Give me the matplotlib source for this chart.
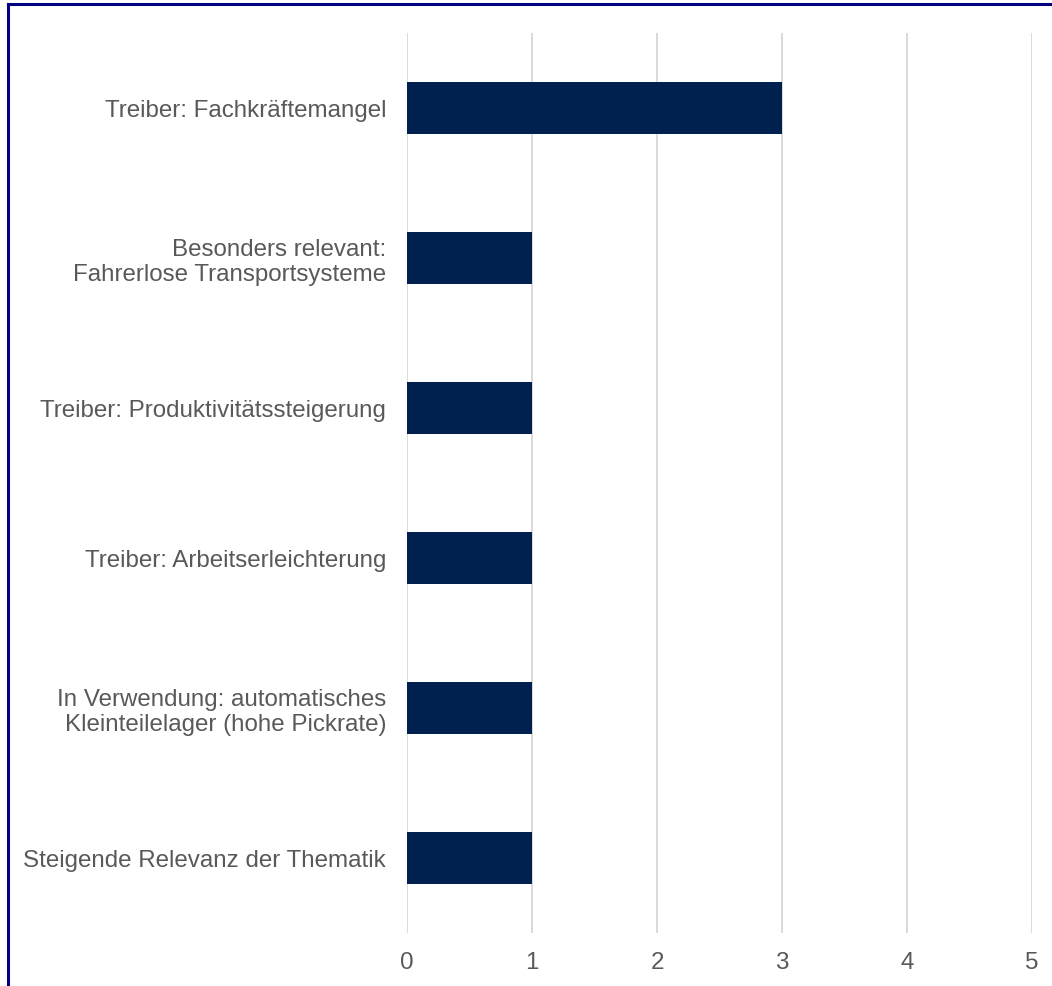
import matplotlib
matplotlib.use("Agg")
import matplotlib.pyplot as plt
from matplotlib.lines import Line2D

labels = [
    "Treiber: Fachkräftemangel",
    "Besonders relevant:\nFahrerlose Transportsysteme",
    "Treiber: Produktivitätssteigerung",
    "Treiber: Arbeitserleichterung",
    "In Verwendung: automatisches\nKleinteilelager (hohe Pickrate)",
    "Steigende Relevanz der Thematik",
]
values = [3, 1, 1, 1, 1, 1]
xticks = [0, 1, 2, 3, 4, 5]

plt.rcParams['font.family'] = ['Liberation Sans', 'DejaVu Sans']

W, H = 1052, 987
fig = plt.figure(figsize=(W / 100, H / 100), dpi=100)
ax = fig.add_axes([407 / W, (H - 934) / H, (1032 - 407) / W, (934 - 34) / H])

pos = list(range(len(labels)))
ax.barh(pos, values, height=0.35, color="#002050", zorder=3)
ax.set_ylim(len(labels) - 0.5, -0.5)
ax.set_xlim(0, 5)
ax.set_xticks(xticks)
ax.set_yticks(pos)
ax.set_yticklabels(labels, ha="right", multialignment="right", linespacing=1.12)

ax.grid(axis="x", color="#d9d9d9", linewidth=1.4, zorder=0)
for s in ax.spines.values():
    s.set_visible(False)
ax.tick_params(axis="both", length=0, labelsize=17.4, colors="#595959")
ax.tick_params(axis="y", pad=15)
ax.tick_params(axis="x", pad=13)

# navy frame along top and left edge
fig.add_artist(Line2D([7.5 / W, 7.5 / W], [0, 1 - 5 / H], transform=fig.transFigure,
                      color="#000080", linewidth=2.2))
fig.add_artist(Line2D([7.5 / W, 1], [1 - 5 / H, 1 - 5 / H], transform=fig.transFigure,
                      color="#000080", linewidth=2.2))

fig.savefig("out.png", dpi=100)
